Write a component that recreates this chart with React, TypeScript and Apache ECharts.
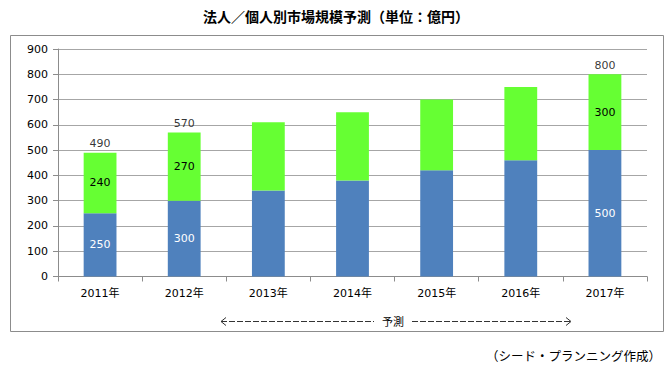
import React, { useEffect, useRef } from "react";
import * as echarts from "echarts";

const categories = ["2011年", "2012年", "2013年", "2014年", "2015年", "2016年", "2017年"];
const corporate = [250, 300, 340, 380, 420, 460, 500];
const individual = [240, 270, 270, 270, 280, 290, 300];
const labeledIndex = [0, 1, 6];
const yTicks = { min: 0, max: 900, interval: 100 };
const titleText = "法人／個人別市場規模予測（単位：億円）";
const forecastText = "予測";
const sourceText = "（シード・プランニング作成）";

export default function App() {
  const ref = useRef<HTMLDivElement>(null);
  useEffect(() => {
    document.body.style.margin = "0";
    const chart = echarts.init(ref.current!, undefined, { renderer: "svg" });
    const totals = corporate.map((v, i) => v + individual[i]);
    const font = "'DejaVu Sans', 'Noto Sans CJK JP', sans-serif";
    const mkLabel = (i: number, color: string, position: string) => ({
      show: labeledIndex.includes(i),
      color,
      position,
      fontSize: 11,
      fontFamily: font,
    });
    chart.setOption({
      animation: false,
      backgroundColor: "#fff",
      grid: { left: 58, right: 23, top: 49, bottom: 98.5 },
      xAxis: {
        type: "category",
        data: categories,
        axisLine: { lineStyle: { color: "#8c8c8c" } },
        axisTick: { show: true, length: 5, lineStyle: { color: "#8c8c8c" } },
        axisLabel: { color: "#000", fontSize: 11, fontFamily: font, margin: 11 },
      },
      yAxis: {
        type: "value",
        min: yTicks.min,
        max: yTicks.max,
        interval: yTicks.interval,
        axisLine: { show: true, lineStyle: { color: "#8c8c8c" } },
        axisTick: { show: true, length: 5, lineStyle: { color: "#8c8c8c" } },
        axisLabel: { color: "#000", fontSize: 11, fontFamily: font, margin: 10 },
        splitLine: { lineStyle: { color: "#a6a6a6" } },
      },
      series: [
        {
          type: "bar",
          stack: "t",
          barWidth: "39%",
          itemStyle: { color: "#4f81bd" },
          data: corporate.map((v, i) => ({ value: v, label: mkLabel(i, "#fff", "inside") })),
        },
        {
          type: "bar",
          stack: "t",
          barWidth: "39%",
          itemStyle: { color: "#66ff33" },
          data: individual.map((v, i) => ({ value: v, label: mkLabel(i, "#000", "inside") })),
        },
        {
          type: "scatter",
          symbolSize: 1,
          itemStyle: { color: "rgba(0,0,0,0)" },
          data: totals.map((v, i) => ({
            value: v,
            label: { ...mkLabel(i, "#000", "top"), distance: 3, formatter: "{c}" },
          })),
        },
      ],
      graphic: [
        {
          type: "rect",
          shape: { x: 10.5, y: 35.5, width: 653, height: 296 },
          style: { fill: "none", stroke: "#8c8c8c", lineWidth: 1 },
          silent: true,
        },
        {
          type: "text",
          x: 336,
          y: 16,
          style: {
            text: titleText,
            fontSize: 14,
            fontWeight: "bold",
            fontFamily: "'Noto Sans CJK JP', sans-serif",
            fill: "#000",
            align: "center",
            verticalAlign: "middle",
          },
        },
        {
          type: "line",
          shape: { x1: 221, y1: 321.5, x2: 374, y2: 321.5 },
          style: { stroke: "#333", lineWidth: 1, lineDash: [6, 2] },
        },
        {
          type: "line",
          shape: { x1: 412, y1: 321.5, x2: 571, y2: 321.5 },
          style: { stroke: "#333", lineWidth: 1, lineDash: [6, 2] },
        },
        {
          type: "polyline",
          shape: { points: [[226, 317.5], [221, 321.5], [226, 325.5]] },
          style: { stroke: "#333", lineWidth: 1, fill: "none" },
        },
        {
          type: "polyline",
          shape: { points: [[566, 317.5], [571, 321.5], [566, 325.5]] },
          style: { stroke: "#333", lineWidth: 1, fill: "none" },
        },
        {
          type: "text",
          x: 393,
          y: 321,
          style: {
            text: forecastText,
            fontSize: 11,
            fontFamily: "'Noto Sans CJK JP', sans-serif",
            fill: "#000",
            align: "center",
            verticalAlign: "middle",
          },
        },
        {
          type: "text",
          x: 661,
          y: 355,
          style: {
            text: sourceText,
            fontSize: 12.5,
            fontFamily: "'Noto Sans CJK JP', sans-serif",
            fill: "#000",
            align: "right",
            verticalAlign: "middle",
          },
        },
      ],
    });
    return () => chart.dispose();
  }, []);
  return <div ref={ref} style={{ width: 670, height: 375 }} />;
}
